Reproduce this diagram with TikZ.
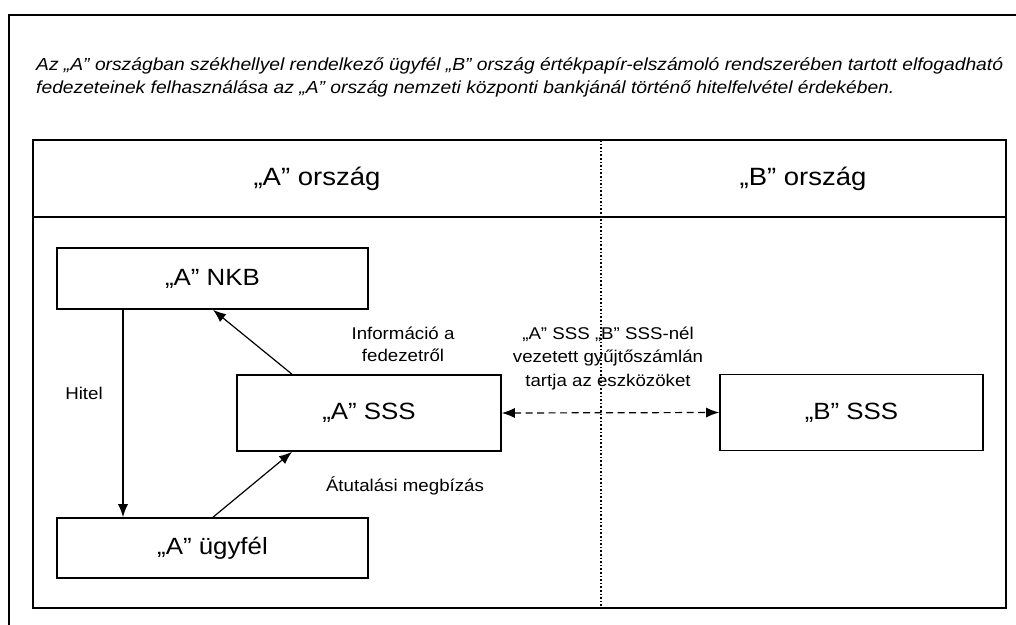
\documentclass[tikz,border=0pt]{standalone}
\usepackage{fontspec}
\setmainfont[FakeStretch=1.1]{Liberation Sans}
\usetikzlibrary{arrows.meta}
\begin{document}
\begin{tikzpicture}[x=1pt,y=-1pt,
  box/.style={draw,line width=1.6pt,minimum width=#1,inner sep=0pt},
  lbl/.style={font=\fontsize{17}{22}\selectfont,align=center,inner sep=0pt},
  arr/.style={line width=1.2pt,-{Latex[length=13pt,width=10pt]}},
  darr/.style={line width=1.2pt,dashed,dash pattern=on 7pt off 4.5pt,{Latex[length=13pt,width=10pt]}-{Latex[length=13pt,width=10pt]}}]
\useasboundingbox (0,0) rectangle (1016,624);
\clip (0,0) rectangle (1016,624);
\fill[white] (0,0) rectangle (1016,624);
% outer frame (cut by the page)
\draw[line width=2.4pt] (9,640) -- (9,15) -- (1030,15);
% title
\node[anchor=west,inner sep=0pt,align=left,font=\itshape\fontsize{17.5}{23}\selectfont] (title) at (36,77)
 {Az „A” országban székhellyel rendelkező ügyfél „B” ország értékpapír-elszámoló rendszerében tartott elfogadható\\
  fedezeteinek felhasználása az „A” ország nemzeti központi bankjánál történő hitelfelvétel érdekében.};
% inner frame
\draw[line width=2pt] (33,140) rectangle (1006,608);
\draw[line width=2pt] (33,217) -- (1006,217);
\draw[line width=1.6pt,dotted] (601,140) -- (601,608);
\node[font=\fontsize{25}{30}\selectfont] (ha) at (317,179) {„A” ország};
\node[font=\fontsize{25}{30}\selectfont] (hb) at (803,179) {„B” ország};
% boxes
\node[box=311pt,minimum height=61pt,font=\fontsize{23.5}{28}\selectfont] (nkb) at (212.5,278.5) {„A” NKB};
\node[box=264pt,minimum height=76pt,font=\fontsize{23.5}{28}\selectfont] (asss) at (369,413) {„A” SSS};
\node[box=311pt,minimum height=60pt,font=\fontsize{23.5}{28}\selectfont] (client) at (212.5,548) {„A” ügyfél};
\node[box=263pt,minimum height=76pt,font=\fontsize{23.5}{28}\selectfont] (bsss) at (851.5,412.5) {„B” SSS};
% connectors
\coordinate (hx) at (123,0);
\coordinate (px) at (213,0);
\coordinate (qx) at (292,0);
\draw[arr] (hx |- nkb.south) -- (hx |- client.north);
\draw[arr] (qx |- asss.north) -- (px |- nkb.south);
\draw[arr] (px |- client.north) -- (qx |- asss.south);
\draw[darr] (asss.east) -- (bsss.west);
% labels
\node[lbl] (lhitel) at (84,393) {Hitel};
\node[lbl] (linfo) at (403,344) {Információ a\\fedezetről};
\node[lbl] (latut) at (405,486) {Átutalási megbízás};
\node[lbl,font=\fontsize{17}{23.5}\selectfont] (lmid) at (608,358) {„A” SSS „B” SSS-nél\\vezetett gyűjtőszámlán\\tartja az eszközöket};
\end{tikzpicture}
\end{document}
